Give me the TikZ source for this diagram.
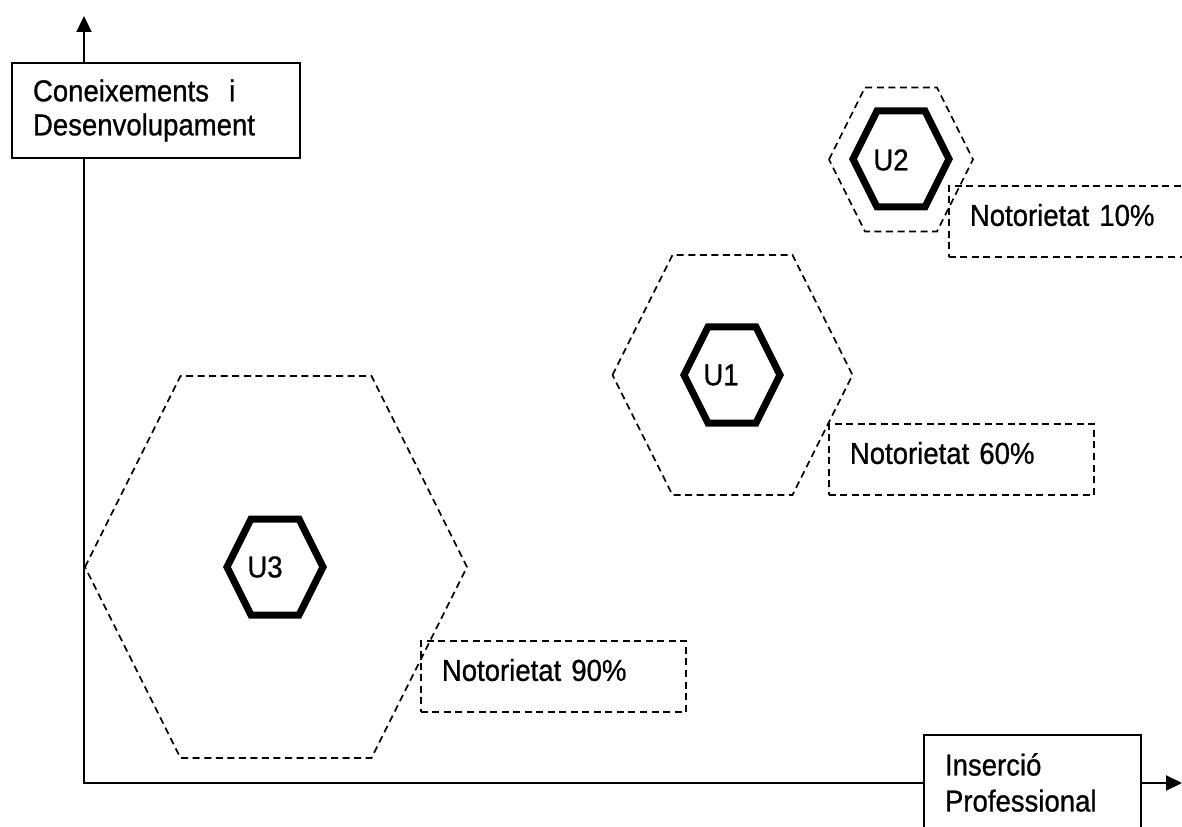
\documentclass[tikz,border=0pt]{standalone}
\usepackage{fontspec}
\setmainfont{Liberation Sans}[FakeStretch=0.91, FakeBold=0.8, WordSpace=0.7]
\usetikzlibrary{arrows.meta}

\begin{document}
\begin{tikzpicture}[x=0.75pt, y=-0.75pt]

\tikzstyle{axisline} = [line width=1.5pt, {Triangle[length=12pt, width=11.25pt]}-{Triangle[length=12pt, width=11.25pt]}]
\tikzstyle{axisbox} = [rectangle, draw=black, fill=white, line width=1.1pt, inner xsep=15.75pt, inner ysep=0pt, align=left, minimum height=71.25pt]
\tikzstyle{hexout} = [line width=1.3pt, dash pattern=on 5.25pt off 3.4pt]
\tikzstyle{hexin} = [line width=5.25pt]
\tikzstyle{hexlabel} = [font=\fontsize{22.7}{25.5}\selectfont]
\tikzstyle{note} = [rectangle, draw=black, line width=1.3pt, dash pattern=on 5.25pt off 3.4pt, anchor=north west, inner xsep=15.75pt, inner ysep=0pt, text width=167.25pt, text height=30pt, text depth=23.25pt, align=left, font=\fontsize{22.7}{25.5}\selectfont]

\path[use as bounding box, clip] (0,0) rectangle (1182,827);

\coordinate (o) at (84,783);
\coordinate (ytip) at (84,16);
\coordinate (xtip) at (1182,783);
\draw[axisline] (ytip) -- (o) -- (xtip);

\node[axisbox, minimum width=216pt, text width=184.5pt, font=\fontsize{22.7}{25.5}\selectfont] (ybox) at (156,110.5) {Coneixements\ \ i\\Desenvolupament};
\node[axisbox, minimum width=162.75pt, text width=131.25pt, font=\fontsize{22.7}{27}\selectfont] (xbox) at (1032.5,782.5) {Inserció\\Professional};

\draw[hexout] (85,567) -- (180.5,376) -- (371.5,376) -- (467,567) -- (371.5,758) -- (180.5,758) -- cycle;
\draw[hexout] (612.5,375) -- (672.5,255) -- (792.5,255) -- (852.5,375) -- (792.5,495) -- (672.5,495) -- cycle;
\draw[hexout] (829,159.5) -- (865,87.5) -- (937,87.5) -- (973,159.5) -- (937,231.5) -- (865,231.5) -- cycle;

\draw[hexin] (227,567) -- (251,519) -- (299,519) -- (323,567) -- (299,615) -- (251,615) -- cycle;
\draw[hexin] (684,375) -- (708,327) -- (756,327) -- (780,375) -- (756,423) -- (708,423) -- cycle;
\draw[hexin] (853,159) -- (877,111) -- (925,111) -- (949,159) -- (925,207) -- (877,207) -- cycle;

\node[hexlabel] (u3) at (265,567) {U3};
\node[hexlabel] (u1) at (721,375) {U1};
\node[hexlabel] (u2) at (891,160) {U2};

\node[note] (n90) at (420,640) {Notorietat 90\%};
\node[note] (n60) at (828,423) {Notorietat 60\%};
\node[note] (n10) at (948,185) {Notorietat 10\%};

\end{tikzpicture}
\end{document}
